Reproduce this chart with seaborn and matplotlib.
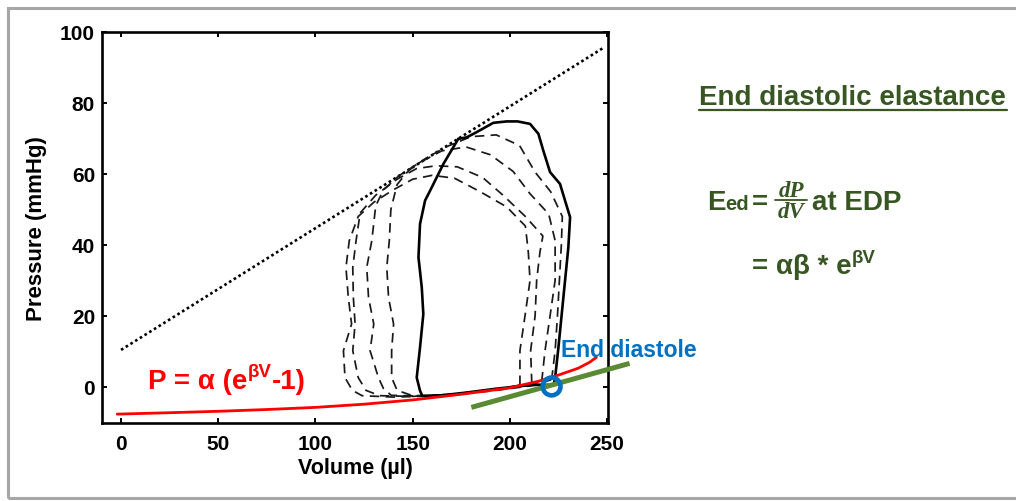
import matplotlib
matplotlib.use("Agg")
import matplotlib.pyplot as plt
import seaborn as sns
from matplotlib.lines import Line2D
from matplotlib.patches import Rectangle

# ---------------- data ----------------
x_ticks = [0, 50, 100, 150, 200, 250]
y_ticks = [0, 20, 40, 60, 80, 100]

# end-systolic pressure-volume relation (dotted)
espvr_v = [0, 248]
espvr_p = [10.4, 95.5]

# baseline (solid) PV loop
solid_v = [222.5, 223.3, 225.0, 226.7, 228.4, 230.1, 231.0, 228.4, 225.8, 220.7, 217.2, 214.7,
           210.4, 204.0, 198.4, 191.5, 183.0, 177.8, 173.5, 165.8, 159.0, 156.4, 153.8, 153.0,
           154.7, 155.5, 153.8, 152.1, 153.8, 155.0, 165.0, 178.0, 192.0, 205.0, 215.0, 222.5]
solid_p = [0.5, 2.6, 11.1, 20.5, 29.9, 39.3, 47.8, 52.5, 57.2, 60.5, 66.6, 71.3,
           74.1, 74.8, 74.8, 74.4, 71.8, 70.3, 69.9, 62.8, 55.3, 52.5, 45.9, 36.5,
           28.0, 20.5, 11.1, 2.6, -1.1, -2.6, -2.4, -1.6, -0.6, 0.2, 0.6, 0.5]

# occlusion loops (dashed)
loopA_v = [205.2, 205.2, 207.8, 210.4, 209.5, 208.0, 198.4, 184.7, 171.5, 160.0, 150.0, 140.0,
           130.0, 122.0, 117.4, 115.7, 116.9, 118.6, 114.4, 115.2, 119.0, 124.0, 140.0, 160.0,
           180.0, 195.0, 205.2]
loopA_p = [0.5, 10.2, 20.0, 30.0, 38.0, 45.3, 50.7, 55.0, 58.8, 59.6, 58.5, 55.5,
           52.0, 48.0, 41.2, 33.7, 25.2, 17.7, 10.2, 2.6, -1.0, -2.5, -2.9, -2.6,
           -1.7, -0.6, 0.5]

loopB_v = [211.3, 210.7, 213.0, 213.8, 215.5, 217.0, 208.0, 196.5, 186.0, 173.0, 162.0, 152.0,
           142.0, 131.0, 123.0, 120.9, 119.2, 119.5, 120.4, 119.2, 122.0, 126.0, 133.0, 150.0,
           170.0, 190.0, 203.0, 211.3]
loopB_p = [1.0, 10.2, 20.0, 30.0, 38.0, 42.5, 48.0, 54.0, 59.0, 62.0, 62.3, 61.5,
           58.5, 54.0, 49.0, 41.2, 33.7, 25.2, 17.7, 10.2, 2.6, -1.0, -2.5, -2.7,
           -2.1, -0.9, -0.2, 1.0]

loopC_v = [216.4, 218.1, 220.7, 223.3, 223.3, 220.0, 210.4, 201.7, 190.0, 177.5, 165.0, 153.0,
           143.0, 135.0, 131.0, 129.0, 126.4, 127.3, 130.0, 128.1, 132.4, 135.0, 139.0, 155.0,
           175.0, 195.0, 208.0, 216.4]
loopC_p = [1.5, 10.2, 20.0, 30.0, 41.2, 48.7, 54.4, 60.7, 65.4, 67.6, 66.5, 63.0,
           59.5, 55.5, 51.0, 41.2, 33.7, 25.2, 17.7, 10.2, 2.6, -0.5, -2.4, -2.6,
           -1.9, -0.7, 0.3, 1.5]

loopD_v = [221.5, 223.3, 224.5, 225.5, 226.5, 227.0, 221.0, 213.0, 205.0, 193.0, 180.0, 168.0,
           157.0, 148.0, 142.0, 138.8, 138.0, 136.7, 137.6, 140.2, 139.2, 139.2, 142.0, 150.0,
           170.0, 190.0, 210.0, 221.5]
loopD_p = [2.0, 10.2, 20.0, 30.0, 40.0, 48.0, 55.0, 60.5, 68.0, 71.0, 70.5, 67.8,
           64.5, 61.0, 57.0, 50.0, 41.2, 33.7, 25.2, 17.7, 10.2, 2.6, -1.0, -2.5,
           -2.3, -1.2, 0.2, 2.0]

# EDPVR fit (red)
edpvr_v = [-2, 25, 50, 75, 100, 125, 150, 175, 200, 215, 225, 235, 241, 244.5]
edpvr_p = [-7.7, -7.3, -6.9, -6.4, -5.8, -4.9, -3.7, -2.1, -0.3, 1.6, 3.3, 5.2, 6.9, 8.3]

# tangent at end diastole (green)
tangent_v = [180.2, 261.6]
tangent_p = [-5.8, 6.6]

# end-diastolic point
ed_v = [221.5]
ed_p = [0.1]

# ---------------- style ----------------
sns.set_theme(style="white")
plt.rcParams["font.family"] = ["Liberation Sans", "DejaVu Sans"]
plt.rcParams["font.weight"] = "bold"
plt.rcParams["axes.labelweight"] = "bold"

W, H = 1016, 502
fig = plt.figure(figsize=(W / 100, H / 100), dpi=100)
fig.patch.set_facecolor("white")
ax = fig.add_axes([102 / W, 1 - 424 / H, 506 / W, 391 / H])
ax.set_facecolor("white")

GREEN_TXT = "#375623"
GREEN_LN = "#5b8a34"
BLUE = "#0070c0"
RED = "#ff0000"


def line(v, p, **kw):
    sns.lineplot(x=v, y=p, sort=False, estimator=None, errorbar=None, ax=ax, **kw)


line(espvr_v, espvr_p, color="black", linewidth=1.9, linestyle=(0, (1.0, 1.1)), zorder=2)
for lv, lp in [(loopA_v, loopA_p), (loopB_v, loopB_p), (loopC_v, loopC_p), (loopD_v, loopD_p)]:
    line(lv, lp, color="#1a1a1a", linewidth=1.25, linestyle=(0, (5.5, 3.6)), zorder=2)
line(solid_v, solid_p, color="black", linewidth=1.9, zorder=3)
line(edpvr_v, edpvr_p, color=RED, linewidth=2.0, zorder=4)
line(tangent_v, tangent_p, color=GREEN_LN, linewidth=3.6, zorder=5, clip_on=False,
     solid_capstyle="butt")
sns.scatterplot(x=ed_v, y=ed_p, s=165, marker="o", facecolor="none", edgecolor=BLUE,
                linewidth=3.3, zorder=6, ax=ax, clip_on=False)

ax.set_xlim(-9.8, 250.5)
ax.set_ylim(-10.2, 100)
ax.set_xticks(x_ticks)
ax.set_yticks(y_ticks)
ax.set_xticklabels([str(t) for t in x_ticks])
ax.set_yticklabels([str(t) for t in y_ticks])
ax.tick_params(direction="in", length=3.5, width=1.4, top=True, right=True, bottom=True,
               left=True, labelsize=15, colors="black", labelcolor="black")
ax.tick_params(axis="x", pad=8)
ax.tick_params(axis="y", pad=5)
for s in ax.spines.values():
    s.set_color("black")
    s.set_linewidth(1.9)
    s.set_visible(True)

ax.set_xlabel("Volume (µl)", fontsize=15.5, fontweight="bold", color="black")
ax.set_ylabel("Pressure (mmHg)", fontsize=16, fontweight="bold", color="black")
ax.xaxis.set_label_coords(0.5, -0.086)
ax.yaxis.set_label_coords(-0.108, 0.5)


# ---------------- annotations ----------------
def ftxt(x, y, s, **kw):
    kw.setdefault("va", "baseline")
    kw.setdefault("ha", "left")
    kw.setdefault("fontweight", "bold")
    return fig.text(x / W, 1 - y / H, s, **kw)


renderer = fig.canvas.get_renderer()


def run(x, y, pieces, color, gap=0.5):
    for s, size, rise in pieces:
        t = ftxt(x, y - rise, s, fontsize=size, color=color, zorder=10)
        bb = t.get_window_extent(renderer)
        x = bb.x1 + gap


# red EDPVR formula
run(148, 389, [("P = α (e", 20, 0), ("βV", 13.5, 11.5), ("-1)", 20, 0)], RED)

# end diastole label
ftxt(561, 357, "End diastole", fontsize=16.5, color=BLUE, zorder=10)

# right-hand panel
ftxt(699, 105, "End diastolic elastance", fontsize=20, color=GREEN_TXT)
fig.add_artist(Line2D([699 / W, 1007 / W], [1 - 110.5 / H] * 2, color=GREEN_TXT, lw=1.6,
                      transform=fig.transFigure))

run(707, 210, [("E", 20, 0), ("ed", 14.5, 0)], GREEN_TXT, gap=0.0)
ftxt(752, 210, "=", fontsize=20, color=GREEN_TXT)
ftxt(791, 197, "dP", fontsize=16.5, color=GREEN_TXT, ha="center",
     family=["Liberation Serif", "DejaVu Serif"], style="italic")
ftxt(791, 217.5, "dV", fontsize=16.5, color=GREEN_TXT, ha="center",
     family=["Liberation Serif", "DejaVu Serif"], style="italic")
fig.add_artist(Line2D([775 / W, 807 / W], [1 - 200.5 / H] * 2, color=GREEN_TXT, lw=1.3,
                      transform=fig.transFigure))
ftxt(812, 210, "at EDP", fontsize=20, color=GREEN_TXT)

run(752, 274, [("= αβ * e", 20, 0), ("βV", 13.5, 11)], GREEN_TXT)

# slide frame
fig.add_artist(Rectangle((8 / W, 1 - 499 / H), (1040 - 8) / W, (499 - 9) / H, fill=False,
                         edgecolor="#a6a6a6", lw=2.2, transform=fig.transFigure))

fig.savefig("out.png", dpi=100, facecolor="white")
